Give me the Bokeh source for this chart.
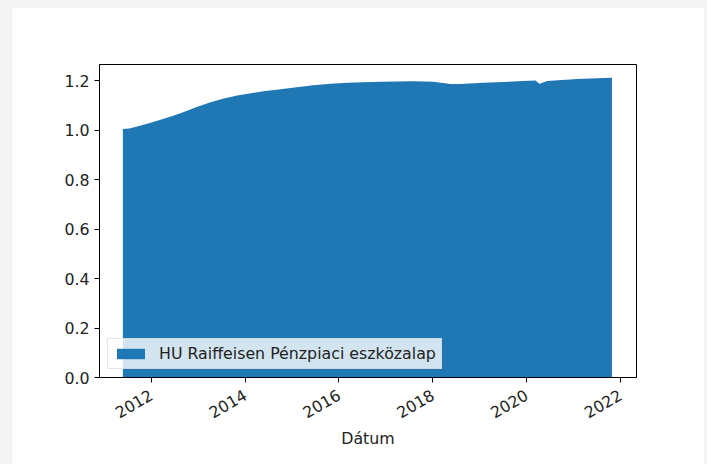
import math
from datetime import datetime
from bokeh.plotting import figure
from bokeh.models import (ColumnDataSource, Range1d, FixedTicker, Legend, LegendItem,
                          GlobalInlineStyleSheet)
from bokeh.embed import file_html
from bokeh.resources import INLINE

series_name = "HU Raiffeisen Pénzpiaci eszközalap"
x_label = "Dátum"

dates = ["2011-05-25", "2011-07-15", "2011-09-13", "2011-12-01", "2012-03-13",
         "2012-06-15", "2012-09-11", "2012-12-15", "2013-04-06", "2013-07-20",
         "2013-10-31", "2014-02-15", "2014-05-26", "2014-09-01", "2014-12-20",
         "2015-06-17", "2015-11-01", "2016-03-05", "2016-11-19", "2017-08-04",
         "2018-01-06", "2018-05-18", "2018-08-04", "2019-01-30", "2019-10-19",
         "2020-03-10", "2020-04-12", "2020-06-09", "2021-01-29", "2021-05-12",
         "2021-10-27"]
values = [1.004, 1.006, 1.014, 1.026, 1.042,
          1.057, 1.073, 1.092, 1.112, 1.128,
          1.140, 1.149, 1.157, 1.163, 1.170,
          1.181, 1.187, 1.191, 1.195, 1.197,
          1.195, 1.186, 1.186, 1.191, 1.197,
          1.200, 1.187, 1.198, 1.206, 1.208,
          1.211]

tick_years = [2012, 2014, 2016, 2018, 2020, 2022]
y_ticks = [0.0, 0.2, 0.4, 0.6, 0.8, 1.0, 1.2]

x_start = datetime(2010, 11, 24)
x_end = datetime(2022, 5, 6)
y_start, y_end = 0.0, 1.265


def to_ms(d):
    return (d - datetime(1970, 1, 1)).total_seconds() * 1000.0


source = ColumnDataSource(dict(
    date=[datetime.strptime(d, "%Y-%m-%d") for d in dates],
    value=values,
    zero=[0.0] * len(values),
))

FONT = "DejaVu Sans"
FS = "15.8px"
TXT = "#222222"

p = figure(width=692, height=457, x_axis_type="datetime",
           output_backend="svg", toolbar_location=None,
           x_range=Range1d(x_start, x_end), y_range=Range1d(y_start, y_end),
           min_border_left=87, min_border_right=68, min_border_top=57,
           min_border_bottom=87)

p.stylesheets = [GlobalInlineStyleSheet(
    css="html, body { background: #f4f4f4; } body { margin: 7px 3px 0 12px; overflow: hidden; }")]

p.background_fill_color = "white"
p.border_fill_color = "white"
p.outline_line_color = "black"
p.outline_line_width = 1
p.xgrid.visible = False
p.ygrid.visible = False

r = p.varea(x="date", y1="zero", y2="value", source=source,
            fill_color="#1f77b4", fill_alpha=1.0)

tick_ms = [to_ms(datetime(y, 1, 1)) for y in tick_years]
p.xaxis.ticker = FixedTicker(ticks=tick_ms)
p.xaxis.major_label_overrides = {t: str(y) for t, y in zip(tick_ms, tick_years)}
p.xaxis.major_label_orientation = math.pi / 6
p.xaxis.axis_label = x_label

p.yaxis.ticker = FixedTicker(ticks=y_ticks)
p.yaxis.major_label_overrides = {v: f"{v:.1f}" for v in y_ticks}

for ax in (p.xaxis, p.yaxis):
    ax.axis_line_color = "black"
    ax.axis_line_width = 1
    ax.major_tick_line_color = "black"
    ax.major_tick_out = 5
    ax.major_tick_in = 0
    ax.minor_tick_out = 0
    ax.minor_tick_in = 0
    ax.major_label_text_font = FONT
    ax.major_label_text_font_size = FS
    ax.major_label_text_color = TXT
    ax.major_label_standoff = 5
    ax.axis_label_text_font = FONT
    ax.axis_label_text_font_size = FS
    ax.axis_label_text_font_style = "normal"
    ax.axis_label_text_color = TXT

p.xaxis.major_label_standoff = 11
p.xaxis.axis_label_standoff = 2

legend = Legend(items=[LegendItem(label=series_name, renderers=[r])],
                location="bottom_left", margin=8, padding=5, spacing=0,
                glyph_width=35, glyph_height=13, label_standoff=11,
                label_height=19,
                label_text_font=FONT, label_text_font_size=FS,
                label_text_color=TXT,
                border_line_color="#cccccc", border_line_width=1,
                background_fill_color="white", background_fill_alpha=0.8)
p.add_layout(legend)

open("out.html", "w").write(file_html(p, INLINE))
